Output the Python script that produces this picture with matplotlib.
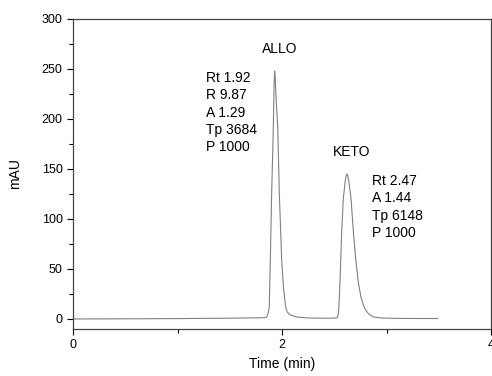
import matplotlib.pyplot as plt
from matplotlib.ticker import MultipleLocator

plt.rcParams['font.family'] = ['Liberation Sans', 'DejaVu Sans']

# chromatogram (time in min, signal in mAU)
time_min = [0.00, 0.50, 1.00, 1.50, 1.80, 1.84, 1.853, 1.865, 1.878, 1.888,
            1.901, 1.917, 1.925, 1.93, 1.935, 1.945, 1.959, 1.974, 1.997,
            2.015, 2.035, 2.05, 2.08, 2.14, 2.25, 2.40, 2.50, 2.52, 2.533,
            2.54, 2.545, 2.555, 2.571, 2.587, 2.605, 2.615, 2.622, 2.630,
            2.640, 2.660, 2.683, 2.705, 2.730, 2.755, 2.778, 2.80, 2.83,
            2.874, 2.95, 3.10, 3.30, 3.49]
mau = [0.0, 0.2, 0.4, 0.8, 1.2, 1.5, 2.0, 5.0, 12.0, 59.0,
       126.0, 192.0, 238.0, 248.0, 240.0, 218.0, 192.0, 126.0, 59.0,
       30.0, 12.0, 7.0, 4.0, 2.0, 1.0, 0.8, 0.9, 1.2, 2.0,
       6.0, 14.0, 37.0, 87.0, 121.0, 138.0, 144.0, 145.0, 143.0,
       137.0, 121.0, 87.0, 60.0, 37.0, 22.0, 14.0, 9.0, 5.0,
       2.0, 1.0, 0.6, 0.5, 0.5]

peak_names = ['ALLO', 'KETO']
peak_name_pos = [(1.98, 270), (2.67, 167)]
peak_info = ['Rt 1.92\nR 9.87\nA 1.29\nTp 3684\nP 1000',
             'Rt 2.47\nA 1.44\nTp 6148\nP 1000']
peak_info_pos = [(1.27, 248), (2.865, 145)]

fig = plt.figure(figsize=(4.92, 3.76), dpi=100)
ax = fig.add_axes([0.1484, 0.125, 0.8496, 0.8245])

ax.plot(time_min, mau, color='#808080', lw=0.8)

for name, (x, y) in zip(peak_names, peak_name_pos):
    ax.text(x, y, name, ha='center', va='center', fontsize=10)
for info, (x, y) in zip(peak_info, peak_info_pos):
    ax.text(x, y, info, ha='left', va='top', fontsize=10, linespacing=1.3)

ax.set_xlim(0, 4)
ax.set_ylim(-10, 300)
ax.xaxis.set_major_locator(MultipleLocator(2))
ax.xaxis.set_minor_locator(MultipleLocator(1))
ax.yaxis.set_major_locator(MultipleLocator(50))
ax.yaxis.set_minor_locator(MultipleLocator(25))
ax.tick_params(which='major', length=4, width=0.8, labelsize=9)
ax.tick_params(which='minor', length=3, width=0.8)

ax.set_xlabel('Time (min)', fontsize=10, labelpad=4)
ax.set_ylabel('mAU', fontsize=10, labelpad=14)

for s in ax.spines.values():
    s.set_color('#444444')
    s.set_linewidth(0.9)

fig.savefig('out.png', dpi=100)
